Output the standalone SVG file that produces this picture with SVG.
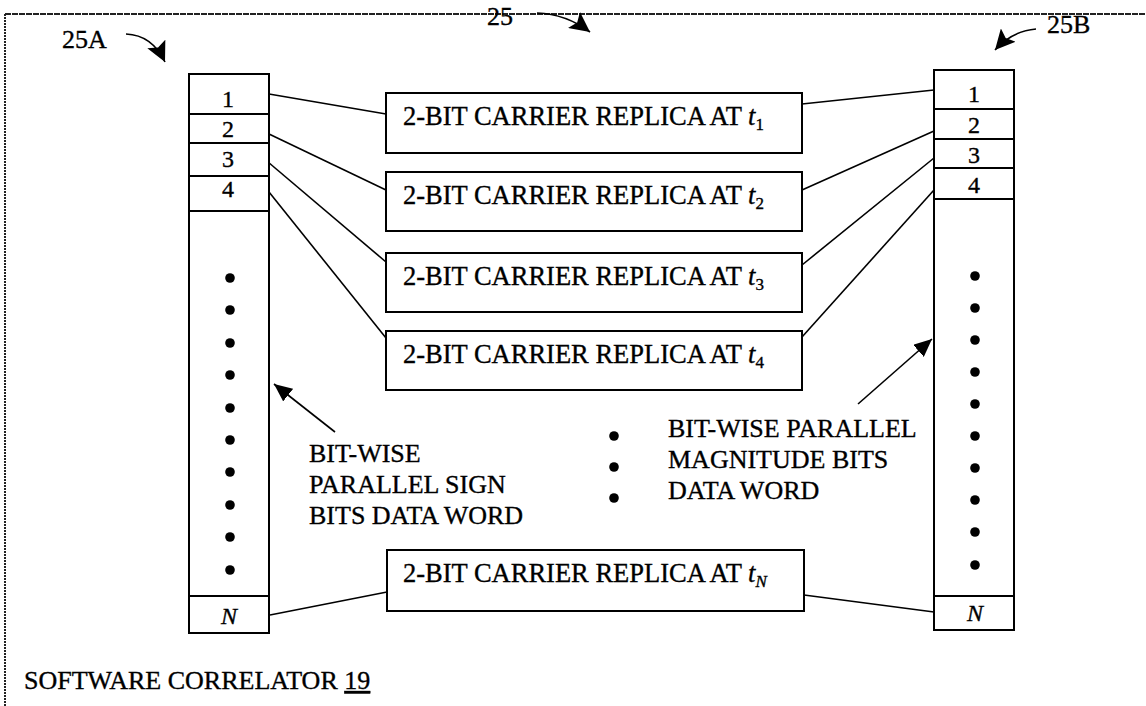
<svg xmlns="http://www.w3.org/2000/svg" width="1146" height="706" viewBox="0 0 1146 706">
<style>
text{font-family:"Liberation Serif","Times New Roman",serif;fill:#000;stroke:#000;stroke-width:0.35}
.box{fill:#fff;stroke:#000;stroke-width:2}
.cell{fill:none;stroke:#000;stroke-width:2}
.lbl{font-size:26.5px}
.num{font-size:24px;text-anchor:middle}
.ann{font-size:26px}
.con{fill:none;stroke:#000;stroke-width:1.6}
.it{font-style:italic}
.sub{font-size:17px}
.dot{fill:#000}
</style>
<defs>
<marker id="ah" markerUnits="userSpaceOnUse" markerWidth="20" markerHeight="16" refX="18" refY="8" orient="auto">
<path d="M0,0 L18,8 L0,16 Z" fill="#000"/>
</marker>
<marker id="ahb" markerUnits="userSpaceOnUse" markerWidth="22" markerHeight="20" refX="20" refY="10" orient="auto">
<path d="M0,0 L20,10 L0,20 L4,10 Z" fill="#000"/>
</marker>
</defs>
<rect width="1146" height="706" fill="#fff"/>
<g id="frame">
<line x1="5" y1="14" x2="1146" y2="14" stroke="#222" stroke-width="2" stroke-dasharray="6 1"/>
<line x1="5" y1="14" x2="5" y2="706" stroke="#222" stroke-width="2" stroke-dasharray="2 1"/>
</g>
<g id="connectors">
<line class="con" x1="269" y1="94" x2="386" y2="114"/>
<line class="con" x1="269" y1="134" x2="386" y2="190"/>
<line class="con" x1="268" y1="162" x2="386" y2="262"/>
<line class="con" x1="269" y1="192" x2="386" y2="338"/>
<line class="con" x1="802" y1="104" x2="934" y2="90"/>
<line class="con" x1="802" y1="190" x2="934" y2="131"/>
<line class="con" x1="802" y1="265" x2="934" y2="158"/>
<line class="con" x1="802" y1="337" x2="934" y2="190"/>
<line class="con" x1="270" y1="615" x2="387" y2="592"/>
<line class="con" x1="804" y1="595" x2="934" y2="612"/>
<line class="con" x1="335" y1="432" x2="274" y2="384" marker-end="url(#ah)"/>
<line class="con" x1="858" y1="404" x2="932" y2="339" marker-end="url(#ah)"/>
<path class="con" d="M126,34 Q152,35 165,62" marker-end="url(#ahb)" stroke-width="2.2"/>
<path class="con" d="M537,13 Q566,14 590,32" marker-end="url(#ahb)" stroke-width="2.2"/>
<path class="con" d="M1036,29 Q1012,31 995,50" marker-end="url(#ahb)" stroke-width="2.2"/>
</g>
<g id="word25A">
<rect class="box" x="189" y="74" width="80" height="559"/>
<line class="cell" x1="189" y1="114" x2="269" y2="114"/>
<line class="cell" x1="189" y1="143" x2="269" y2="143"/>
<line class="cell" x1="189" y1="176" x2="269" y2="176"/>
<line class="cell" x1="189" y1="211" x2="269" y2="211"/>
<line class="cell" x1="189" y1="596" x2="269" y2="596"/>
<text class="num" x="228" y="107">1</text>
<text class="num" x="228" y="137">2</text>
<text class="num" x="228" y="167">3</text>
<text class="num" x="228" y="197">4</text>
<text class="num it" x="229" y="624">N</text>
<g class="dot">
<circle cx="230" cy="278" r="4.8"/><circle cx="230" cy="310" r="4.8"/><circle cx="230" cy="343" r="4.8"/><circle cx="230" cy="375" r="4.8"/><circle cx="230" cy="408" r="4.8"/><circle cx="230" cy="440" r="4.8"/><circle cx="230" cy="472" r="4.8"/><circle cx="230" cy="505" r="4.8"/><circle cx="230" cy="537" r="4.8"/><circle cx="230" cy="570" r="4.8"/>
</g>
</g>
<g id="word25B">
<rect class="box" x="934" y="70" width="80" height="560"/>
<line class="cell" x1="934" y1="109" x2="1014" y2="109"/>
<line class="cell" x1="934" y1="139" x2="1014" y2="139"/>
<line class="cell" x1="934" y1="168" x2="1014" y2="168"/>
<line class="cell" x1="934" y1="199" x2="1014" y2="199"/>
<line class="cell" x1="934" y1="596" x2="1014" y2="596"/>
<text class="num" x="974" y="102">1</text>
<text class="num" x="974" y="133">2</text>
<text class="num" x="974" y="163">3</text>
<text class="num" x="974" y="193">4</text>
<text class="num it" x="975" y="621">N</text>
<g class="dot">
<circle cx="975" cy="276" r="4.8"/><circle cx="975" cy="308" r="4.8"/><circle cx="975" cy="340" r="4.8"/><circle cx="975" cy="372" r="4.8"/><circle cx="975" cy="404" r="4.8"/><circle cx="975" cy="436" r="4.8"/><circle cx="975" cy="468" r="4.8"/><circle cx="975" cy="500" r="4.8"/><circle cx="975" cy="532" r="4.8"/><circle cx="975" cy="565" r="4.8"/>
</g>
</g>
<g id="replica1">
<rect class="box" x="386" y="93" width="416" height="60"/>
<text class="lbl" x="403" y="125">2-BIT CARRIER REPLICA AT <tspan class="it">t</tspan><tspan class="sub" dy="5">1</tspan></text>
</g>
<g id="replica2">
<rect class="box" x="386" y="172" width="416" height="59"/>
<text class="lbl" x="403" y="204">2-BIT CARRIER REPLICA AT <tspan class="it">t</tspan><tspan class="sub" dy="5">2</tspan></text>
</g>
<g id="replica3">
<rect class="box" x="386" y="253" width="416" height="59"/>
<text class="lbl" x="403" y="285">2-BIT CARRIER REPLICA AT <tspan class="it">t</tspan><tspan class="sub" dy="5">3</tspan></text>
</g>
<g id="replica4">
<rect class="box" x="386" y="331" width="416" height="59"/>
<text class="lbl" x="403" y="363">2-BIT CARRIER REPLICA AT <tspan class="it">t</tspan><tspan class="sub" dy="5">4</tspan></text>
</g>
<g id="replicaN">
<rect class="box" x="387" y="550" width="417" height="61"/>
<text class="lbl" x="403" y="582">2-BIT CARRIER REPLICA AT <tspan class="it">t</tspan><tspan class="sub it" dy="5">N</tspan></text>
</g>
<g id="middle-dots" class="dot">
<circle cx="614" cy="436" r="4.8"/><circle cx="614" cy="467" r="4.8"/><circle cx="614" cy="498" r="4.8"/>
</g>
<g id="label-sign">
<text class="ann" x="309" y="462">BIT-WISE</text>
<text class="ann" x="309" y="493">PARALLEL SIGN</text>
<text class="ann" x="309" y="524">BITS DATA WORD</text>
</g>
<g id="label-mag">
<text class="ann" x="668" y="437">BIT-WISE PARALLEL</text>
<text class="ann" x="668" y="468">MAGNITUDE BITS</text>
<text class="ann" x="668" y="499">DATA WORD</text>
</g>
<g id="refs">
<text class="ann" x="62" y="48">25A</text>
<text class="ann" x="487" y="25">25</text>
<text class="ann" x="1047" y="33">25B</text>
</g>
<g id="title">
<text class="ann" x="24" y="689">SOFTWARE CORRELATOR <tspan text-decoration="underline">19</tspan></text>
</g>
</svg>
